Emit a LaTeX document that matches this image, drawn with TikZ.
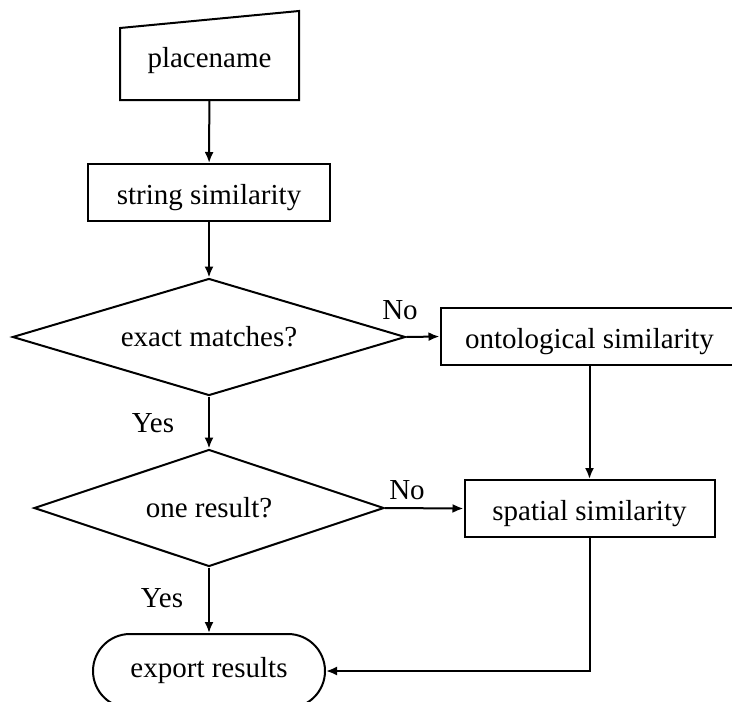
\documentclass[tikz,border=0pt]{standalone}
\usepackage{fontspec}
\setmainfont{Liberation Serif}
\usetikzlibrary{calc,arrows.meta,shapes.geometric}

\begin{document}
\begin{tikzpicture}[x=1pt,y=-1pt,line width=2pt,
    every node/.style={font=\fontsize{29}{34}\selectfont},
    box/.style={draw,minimum height=57pt,inner sep=0pt,text height=29pt,text depth=6pt},
    test/.style={draw,diamond,aspect=3.4,inner sep=0pt,minimum height=117pt},
    arr/.style={-{Latex[length=11pt,width=9pt]}}]
  \useasboundingbox (0,0) rectangle (732,702);
  \clip (0,0) rectangle (732,702);
  % input (slanted top)
  \node (in) at (209.5,55.5) [minimum width=177pt,minimum height=87pt,
    text height=29pt,text depth=6pt] {placename};
  \draw (in.south west) -- (in.south east) -- (in.north east)
    -- ($(in.north west)+(0,17)$) -- cycle;
  \node[box,minimum width=242pt] (str) at (209,192.5) {string similarity};
  \node[test,minimum width=393pt] (exact) at (209,337) {exact matches?};
  \node[test,minimum width=350pt] (one) at (209,508) {one result?};
  \node[box,minimum width=298pt] (onto) at (589.5,336.5) {ontological similarity};
  \node[box,minimum width=250pt] (spat) at (589.5,508.5) {spatial similarity};
  \node[draw,rounded corners=37pt,minimum width=232pt,minimum height=74pt,
    inner sep=0pt] (out) at (209,671) {export results};
  \draw[arr] (in) -- (str);
  \draw[arr] (str) -- (exact);
  \draw[arr] (exact) -- (one);
  \draw[arr] (one) -- (out);
  \draw[arr] (exact.east) -- (onto.west);
  \draw[arr] (one.east) -- (spat.west);
  \draw[arr] (onto) -- (spat);
  \draw[arr] (spat.south) |- (out.east);
  \foreach \n/\t/\x/\y in {no1/No/400/310,yes1/Yes/153/423,no2/No/407/490,yes2/Yes/162/598}
    \node (\n) at (\x,\y) {\t};
\end{tikzpicture}
\end{document}
